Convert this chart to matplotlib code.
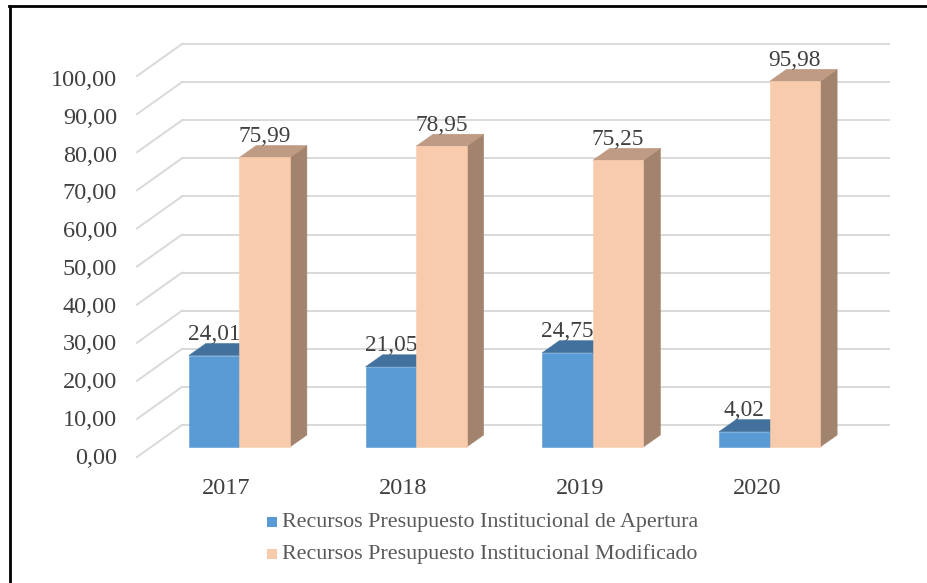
import matplotlib
matplotlib.use("Agg")
import matplotlib.pyplot as plt
from matplotlib.patches import Polygon, Rectangle
from matplotlib.lines import Line2D

plt.rcParams['font.family'] = ['Liberation Serif', 'DejaVu Serif']

# ---- data ----
years = ["2017", "2018", "2019", "2020"]
apertura = [24.01, 21.05, 24.75, 4.02]
modificado = [75.99, 78.95, 75.25, 95.98]
series_names = ["Recursos Presupuesto Institucional de Apertura",
                "Recursos Presupuesto Institucional Modificado"]
yticks = [0, 10, 20, 30, 40, 50, 60, 70, 80, 90, 100]

def fmt(v):
    return f"{v:.2f}".replace(".", ",")

# ---- styling ----
W, H = 928, 583
fig = plt.figure(figsize=(W / 100, H / 100), dpi=100)
fig.patch.set_facecolor("white")

# axes = front plane of the bars (pixels 151..858 horizontally, 447..66 vertically)
ax_l, ax_r, ax_b, ax_t = 151, 858, 447, 66
ax = fig.add_axes([ax_l / W, (H - ax_b) / H, (ax_r - ax_l) / W, (ax_b - ax_t) / H])
ax.set_xlim(-0.5, 3.5)
ax.set_ylim(0, 100)
ax.axis("off")

px_x = 4.0 / (ax_r - ax_l)
px_y = 100.0 / (ax_b - ax_t)

DX, DY = 17 * px_x, 12 * px_y          # bar depth
BX, BY = 31 * px_x, 22 * px_y          # back wall offset
FX, FY = -14 * px_x, -10 * px_y        # front edge of side wall

grid_c = "#D9D9D9"
for v in yticks:
    ax.add_line(Line2D([-0.5 + BX, 3.5 + BX], [v + BY, v + BY], color=grid_c,
                       lw=1.4, zorder=1, clip_on=False))
    ax.add_line(Line2D([-0.5 + FX, -0.5 + BX], [v + FY, v + BY], color=grid_c,
                       lw=1.4, zorder=1, clip_on=False))
    ax.text(-0.5 + FX - 20 * px_x, v * 0.99 + FY - 1 * px_y, fmt(v), ha="right", va="center",
            fontsize=17.5, color="#404040", clip_on=False)

w = 50.5 / 176.75
cols = [("#5B9BD5", "#41719C", "#3E6A94"), ("#F8CBAD", "#C09B83", "#A2836D")]

def draw_bar(x0, v, front, top, side, z):
    x1 = x0 + w
    kw = dict(clip_on=False, zorder=z, lw=0.4)
    ax.add_patch(Polygon([(x1, 0), (x1 + DX, DY), (x1 + DX, v + DY), (x1, v)],
                         closed=True, fc=side, ec=side, **kw))
    ax.add_patch(Polygon([(x0, v), (x1, v), (x1 + DX, v + DY), (x0 + DX, v + DY)],
                         closed=True, fc=top, ec=top, **kw))
    ax.add_patch(Rectangle((x0, 0), w, v, fc=front, ec=front, **kw))

for i, yr in enumerate(years):
    c = i
    # Apertura (left)
    draw_bar(c - w, apertura[i], *cols[0], z=2)
    ax.text(c - w / 2, apertura[i] + DY + 3.5 * px_y, fmt(apertura[i]), ha="center",
            va="baseline", fontsize=16.8, color="#404040", zorder=2.5, clip_on=False)
    # Modificado (right)
    draw_bar(c, modificado[i], *cols[1], z=3)
    ax.text(c + w / 2, modificado[i] + DY + 3.5 * px_y, fmt(modificado[i]), ha="center",
            va="baseline", fontsize=16.8, color="#404040", zorder=4, clip_on=False)
    # year label
    ax.text(c - 13 * px_x, -42 * px_y, yr, ha="center", va="center",
            fontsize=17.5, color="#404040", clip_on=False)

# ---- legend ----
leg_y = [522, 554]
for k, name in enumerate(series_names):
    yc = leg_y[k]
    fig.patches.append(Rectangle((267 / W, (H - yc - 5) / H), 10 / W, 10 / H,
                                 transform=fig.transFigure, fc=cols[k][0], ec="none"))
    fig.text(282 / W, (H - yc) / H, name, ha="left", va="center",
             fontsize=15.8, color="#595959")

# ---- frame (left and top) ----
fig.add_artist(Line2D([10 / W, 10 / W], [0, (H - 6) / H], color="black", lw=2,
                      transform=fig.transFigure))
fig.add_artist(Line2D([9 / W, 926 / W], [(H - 6) / H, (H - 6) / H], color="black", lw=2,
                      transform=fig.transFigure))

fig.savefig("out.png", dpi=100)
